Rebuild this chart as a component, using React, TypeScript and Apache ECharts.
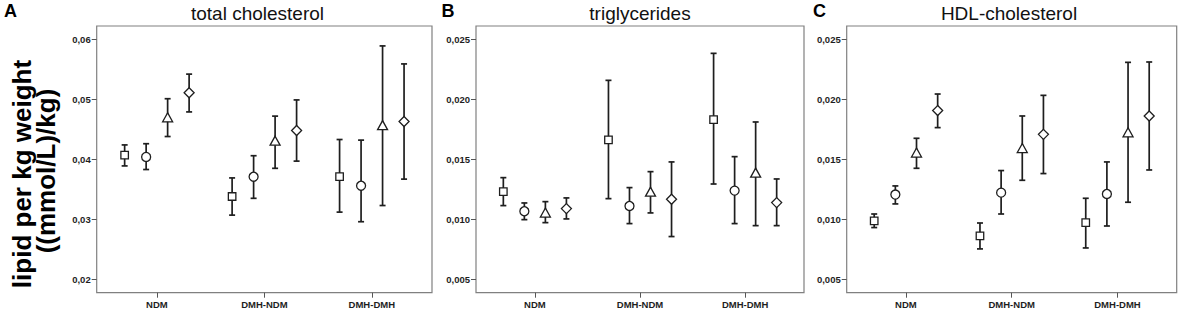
import React, { useEffect, useRef } from "react";
import * as echarts from "echarts";

// ---------- data ----------
const categories = ["NDM", "DMH-NDM", "DMH-DMH"];
const groupNames = ["group 1", "group 2", "group 3", "group 4"];

// total cholesterol: [category][group]
const tcMean = [
  [0.0407, 0.0404, 0.047, 0.0511],
  [0.0338, 0.0371, 0.0431, 0.0448],
  [0.0371, 0.0356, 0.0457, 0.0463],
];
const tcLow = [
  [0.0389, 0.0383, 0.0438, 0.0479],
  [0.0307, 0.0335, 0.0385, 0.0397],
  [0.0312, 0.0296, 0.0323, 0.0367],
];
const tcHigh = [
  [0.0424, 0.0426, 0.0501, 0.0542],
  [0.0369, 0.0406, 0.0472, 0.0499],
  [0.0433, 0.0432, 0.0589, 0.0559],
];

// triglycerides
const tgMean = [
  [0.0123, 0.01067, 0.01056, 0.01089],
  [0.01661, 0.01111, 0.0123, 0.01167],
  [0.01831, 0.01239, 0.01389, 0.01139],
];
const tgLow = [
  [0.01114, 0.00997, 0.00972, 0.01003],
  [0.01172, 0.00964, 0.01053, 0.00856],
  [0.01294, 0.00964, 0.00947, 0.00947],
];
const tgHigh = [
  [0.01347, 0.01136, 0.01147, 0.01178],
  [0.02158, 0.01264, 0.01397, 0.01478],
  [0.02383, 0.01522, 0.01811, 0.01336],
];

// HDL-cholesterol
const hdlMean = [
  [0.00986, 0.01206, 0.01556, 0.01906],
  [0.00861, 0.01222, 0.01594, 0.01708],
  [0.00972, 0.01211, 0.01725, 0.01861],
];
const hdlLow = [
  [0.00931, 0.01128, 0.01425, 0.01764],
  [0.00753, 0.01044, 0.01325, 0.01381],
  [0.00761, 0.00944, 0.01142, 0.01411],
];
const hdlHigh = [
  [0.01044, 0.01278, 0.01675, 0.02044],
  [0.00969, 0.01406, 0.01861, 0.02033],
  [0.01175, 0.01478, 0.02308, 0.02311],
];

const tcTicks = [0.02, 0.03, 0.04, 0.05, 0.06];
const tgTicks = [0.005, 0.01, 0.015, 0.02, 0.025];
const hdlTicks = [0.005, 0.01, 0.015, 0.02, 0.025];

// ---------- layout / style ----------
const FONT = "Liberation Sans, Arial, Helvetica, sans-serif";
const INK = "#1e1e1e";
const offsets = [-0.3, -0.1, 0.1, 0.3];
const symbols = ["rect", "circle", "triangle", "diamond"];
const symbolSizes: any[] = [7.5, 9, [10, 9], [10, 10]];

const panels = [
  {
    title: "total cholesterol", letter: "A", left: 96.7, width: 335.3, titleX: 257.5, letterX: 4,
    yMin: 0.01777, yMax: 0.06222, ticks: tcTicks, dec: 2, mean: tcMean, low: tcLow, high: tcHigh,
  },
  {
    title: "triglycerides", letter: "B", left: 476, width: 328, titleX: 640, letterX: 441.5,
    yMin: 0.00388, yMax: 0.02611, ticks: tgTicks, dec: 3, mean: tgMean, low: tgLow, high: tgHigh,
  },
  {
    title: "HDL-cholesterol", letter: "C", left: 846.7, width: 330, titleX: 1009, letterX: 813,
    yMin: 0.00388, yMax: 0.02611, ticks: hdlTicks, dec: 3, mean: hdlMean, low: hdlLow, high: hdlHigh,
  },
];

const GRID_TOP = 26;
const GRID_H = 266.7;

function buildOption() {
  const grid: any[] = [];
  const xAxis: any[] = [];
  const yAxis: any[] = [];
  const series: any[] = [];
  const graphic: any[] = [];

  panels.forEach((p, pi) => {
    grid.push({
      left: p.left, top: GRID_TOP, width: p.width, height: GRID_H,
      show: true, borderColor: "#808080", borderWidth: 1.2, backgroundColor: "#fff",
      containLabel: false, outerBoundsMode: "none",
    });
    xAxis.push({
      type: "value", gridIndex: pi, min: 0.44, max: 3.56,
      axisLine: { show: false },
      splitLine: { show: false },
      axisTick: { show: true, customValues: [1, 2, 3], length: 5, lineStyle: { color: "#555", width: 1 } },
      axisLabel: {
        customValues: [1, 2, 3],
        formatter: (v: number) => categories[Math.round(v) - 1] || "",
        fontSize: 9.5, fontWeight: "bold", color: INK, fontFamily: FONT, margin: 7,
      },
    });
    yAxis.push({
      type: "value", gridIndex: pi, min: p.yMin, max: p.yMax,
      axisLine: { show: false },
      splitLine: { show: false },
      axisTick: { show: true, customValues: p.ticks, length: 5, lineStyle: { color: "#555", width: 1 } },
      axisLabel: {
        customValues: p.ticks,
        formatter: (v: number) => v.toFixed(p.dec).replace(".", ","),
        fontSize: 9.5, fontWeight: "bold", color: INK, fontFamily: FONT, margin: 6,
      },
    });

    // error bars
    const errData: any[] = [];
    categories.forEach((_, ci) => {
      groupNames.forEach((_, gi) => {
        errData.push([ci + 1 + offsets[gi], p.low[ci][gi], p.high[ci][gi]]);
      });
    });
    series.push({
      type: "custom", xAxisIndex: pi, yAxisIndex: pi, z: 2, silent: true,
      data: errData,
      encode: { x: 0, y: [1, 2] },
      renderItem: (params: any, api: any) => {
        const x = api.value(0);
        const lo = api.coord([x, api.value(1)]);
        const hi = api.coord([x, api.value(2)]);
        const hw = 3;
        const style = { stroke: INK, lineWidth: 1.7, fill: null };
        return {
          type: "group",
          children: [
            { type: "line", shape: { x1: lo[0], y1: lo[1], x2: hi[0], y2: hi[1] }, style },
            { type: "line", shape: { x1: lo[0] - hw, y1: lo[1], x2: lo[0] + hw, y2: lo[1] }, style },
            { type: "line", shape: { x1: hi[0] - hw, y1: hi[1], x2: hi[0] + hw, y2: hi[1] }, style },
          ],
        };
      },
    });

    // markers
    groupNames.forEach((g, gi) => {
      series.push({
        type: "scatter", name: g, xAxisIndex: pi, yAxisIndex: pi, z: 3, silent: true,
        symbol: symbols[gi], symbolSize: symbolSizes[gi],
        itemStyle: { color: "#fff", borderColor: INK, borderWidth: 1.3, opacity: 1 },
        data: categories.map((_, ci) => [ci + 1 + offsets[gi], p.mean[ci][gi]]),
      });
    });

    graphic.push({
      type: "text", x: p.titleX, y: 13.5, silent: true,
      style: {
        text: p.title, fontSize: 19, fontFamily: FONT, fill: "#111",
        align: "center", verticalAlign: "middle", textAlign: "center", textVerticalAlign: "middle",
      },
    });
    graphic.push({
      type: "text", x: p.letterX, y: 11, silent: true,
      style: {
        text: p.letter, fontSize: 18, fontWeight: "bold", fontFamily: FONT, fill: "#000",
        align: "left", verticalAlign: "middle", textAlign: "left", textVerticalAlign: "middle",
      },
    });
  });

  // y-axis title (two rotated lines)
  graphic.push({
    type: "text", x: 22, y: 174, rotation: Math.PI / 2, silent: true,
    style: {
      text: "lipid per kg weight", fontSize: 26, fontWeight: "bold", fontFamily: FONT, fill: "#000",
      align: "center", verticalAlign: "middle", textAlign: "center", textVerticalAlign: "middle",
    },
  });
  graphic.push({
    type: "text", x: 46, y: 171, rotation: Math.PI / 2, silent: true,
    style: {
      text: "((mmol/L)/kg)", fontSize: 26, fontWeight: "bold", fontFamily: FONT, fill: "#000",
      align: "center", verticalAlign: "middle", textAlign: "center", textVerticalAlign: "middle",
    },
  });

  return {
    animation: false,
    backgroundColor: "#fff",
    grid, xAxis, yAxis, series, graphic,
  };
}

export default function App() {
  const ref = useRef<HTMLDivElement>(null);
  useEffect(() => {
    if (!ref.current) return;
    const chart = echarts.init(ref.current, undefined, { renderer: "svg" });
    chart.setOption(buildOption() as any);
    return () => chart.dispose();
  }, []);
  return (
    <div
      ref={ref}
      style={{ position: "absolute", left: 0, top: 0, width: 1180, height: 312, background: "#fff" }}
    />
  );
}
